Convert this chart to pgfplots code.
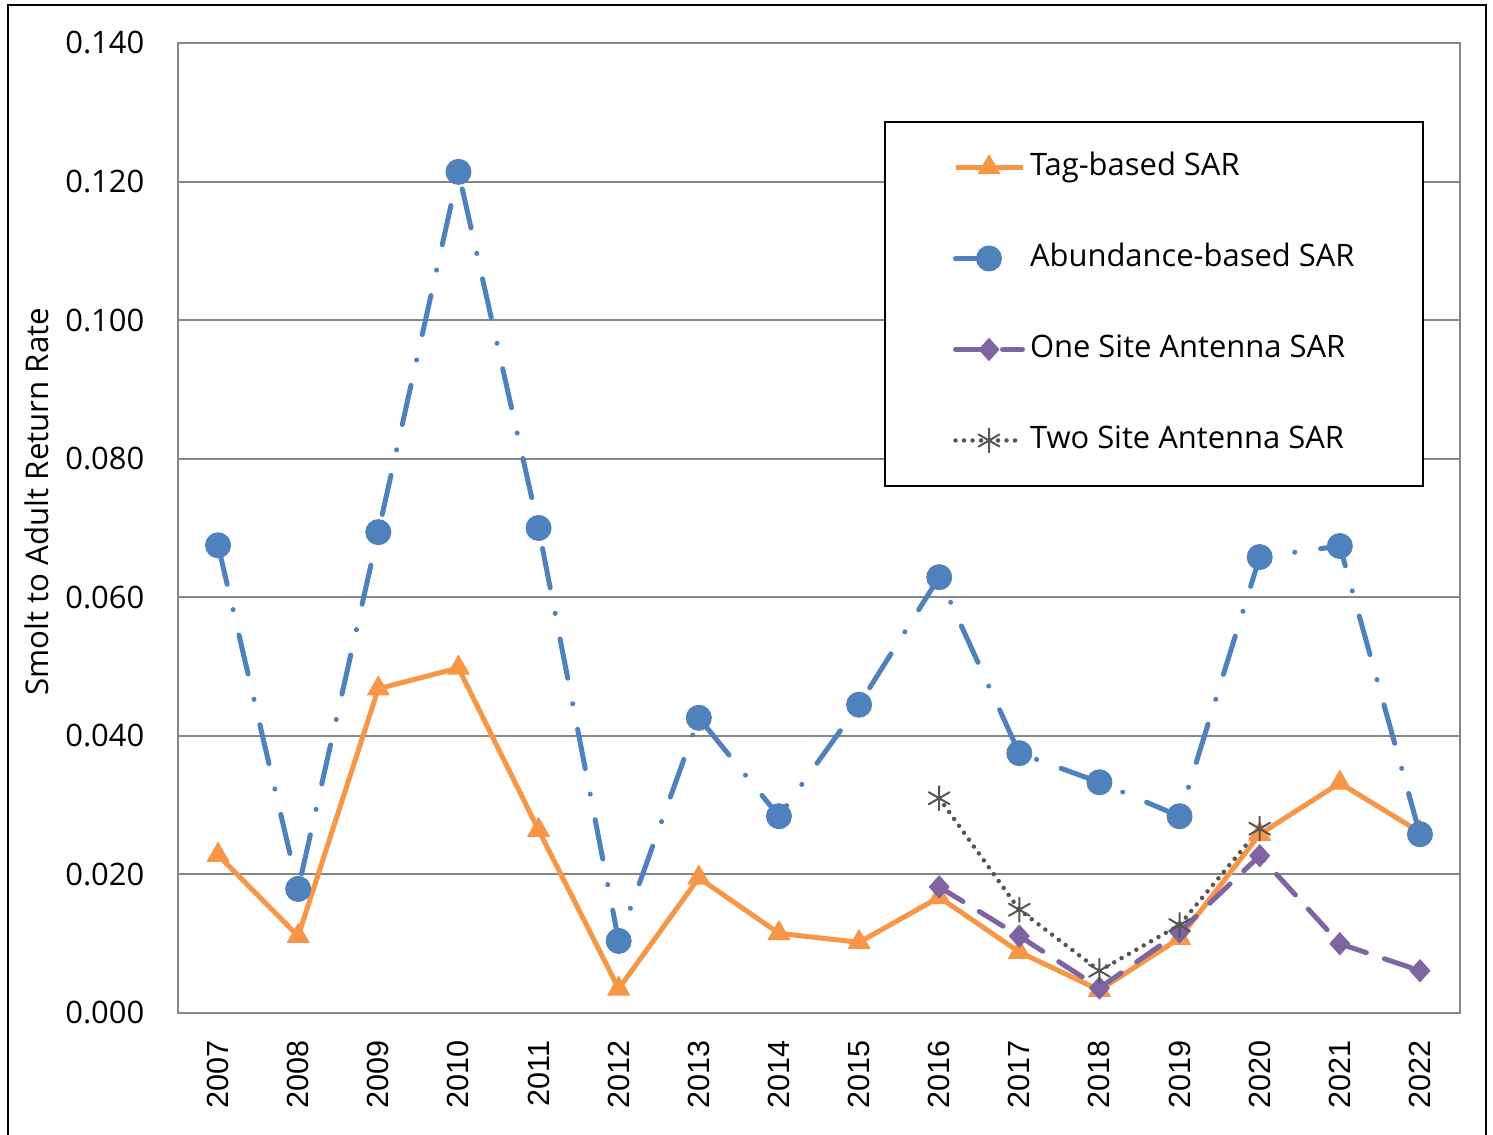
\documentclass[border=0pt]{standalone}
\usepackage{fontspec}
\setmainfont{Open Sans}
\newfontfamily\arialf{Liberation Sans}
\usepackage{pgfplots}
\pgfplotsset{compat=1.18}
\definecolor{tagc}{RGB}{247,150,70}
\definecolor{abuc}{RGB}{79,129,189}
\definecolor{onec}{RGB}{128,100,162}
\definecolor{twoc}{RGB}{85,85,85}
\definecolor{gridc}{RGB}{134,134,134}

\begin{document}
\begin{tikzpicture}[x=1mm,y=1mm]
\useasboundingbox (-17.8,-12.2) rectangle (131.5,101.3);
\draw[line width=0.22mm] (-17.0,-14) -- (-17.0,100.8) -- (130.8,100.8) -- (130.8,-14);
\begin{axis}[at={(0,0)}, anchor=south west, scale only axis,
  width=128.2mm, height=97mm,
  xmin=-0.5, xmax=15.5, ymin=0, ymax=0.14,
  xtick={0,...,15},
  xticklabels={2007,2008,2009,2010,2011,2012,2013,2014,2015,2016,2017,2018,2019,2020,2021,2022},
  ytick={0,0.02,0.04,0.06,0.08,0.1,0.12,0.14},
  scaled y ticks=false,
  yticklabel style={font=\fontsize{8.8}{10}\selectfont, inner sep=0pt, xshift=-3.3mm,
    /pgf/number format/fixed, /pgf/number format/fixed zerofill,
    /pgf/number format/precision=3, /pgf/number format/assume math mode=true},
  major tick length=0pt, tick style={draw=none},
  ymajorgrids, grid style={gridc, line width=0.2mm},
  axis line style={gridc, line width=0.2mm},
  xticklabel style={font=\arialf\fontsize{8.7}{10}\selectfont, inner sep=0pt,
    yshift=-2.7mm, rotate=90, anchor=east},
  ylabel={Smolt to Adult Return Rate},
  every axis y label/.style={at={(rel axis cs:0,0.527)}, xshift=-14.1mm,
    rotate=90, anchor=center, font=\fontsize{8.9}{10}\selectfont},
  legend image code/.code={\draw[mark repeat=2,mark phase=2,#1]
    plot coordinates {(0mm,0mm) (3.35mm,0mm) (6.7mm,0mm)};},
  legend cell align=left,
  legend style={at={(rel axis cs:0.5507,0.9196)}, anchor=north west,
    draw=black, line width=0.2mm, inner xsep=6.8mm, inner ysep=3.0mm,
    row sep=6.0mm, column sep=0.5mm,
    nodes={font=\fontsize{8.8}{10}\selectfont, text height=2.4mm, text depth=0.7mm, inner sep=0pt}},
  clip=false]
\addplot[tagc, line width=0.5mm, line join=round, mark=triangle*, mark size=1.25mm,
  mark options={solid, fill=tagc, draw=tagc, line width=0.1mm}]
  coordinates {(0,0.0228) (1,0.0111) (2,0.0468) (3,0.0498) (4,0.0264) (5,0.0035)
   (6,0.0195) (7,0.0115) (8,0.0102) (9,0.0167) (10,0.0088) (11,0.0033)
   (12,0.0108) (13,0.0258) (14,0.0332) (15,0.0261)};
\addlegendentry{Tag-based SAR}
\addplot[abuc, line width=0.5mm, line cap=round, line join=round,
  dash pattern=on 4.0mm off 2.6mm on 0.01mm off 2.6mm, forget plot,
  mark=*, mark size=1.25mm, mark options={solid, fill=abuc, draw=abuc, line width=0.1mm}]
  coordinates {(0,0.0675) (1,0.0179) (2,0.0694) (3,0.1214) (4,0.0700) (5,0.0104)
   (6,0.0426) (7,0.0284) (8,0.0445) (9,0.0629) (10,0.0375) (11,0.0333)
   (12,0.0284) (13,0.0658) (14,0.0674) (15,0.0258)};
\addlegendimage{abuc, line width=0.5mm, line cap=round, dash pattern=on 2.6mm off 6mm,
  mark=*, mark size=1.25mm, mark options={solid, fill=abuc, draw=abuc, line width=0.1mm}}
\addlegendentry{Abundance-based SAR}
\addplot[onec, line width=0.5mm, line cap=round, line join=round,
  dash pattern=on 2.8mm off 1.9mm,
  mark=diamond*, mark size=1.1mm, mark options={solid, xscale=1.2, fill=onec, draw=onec, line width=0.1mm}]
  coordinates {(9,0.0182) (10,0.0111) (11,0.0036) (12,0.0117) (13,0.0227)
   (14,0.0100) (15,0.0061)};
\addlegendentry{One Site Antenna SAR}
\addplot[twoc, line width=0.45mm, line cap=round,
  dash pattern=on 0mm off 0.85mm,
  mark=asterisk, mark size=1.2mm, mark options={solid, draw=twoc, line width=0.2mm}]
  coordinates {(9,0.0310) (10,0.0149) (11,0.0061) (12,0.0127) (13,0.0266)};
\addlegendentry{Two Site Antenna SAR}
\end{axis}
\end{tikzpicture}
\end{document}
